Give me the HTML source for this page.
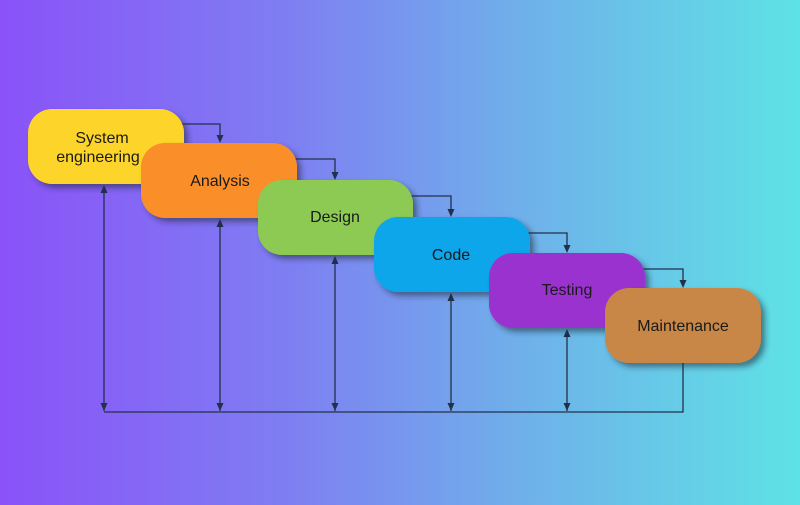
<!DOCTYPE html>
<html><head><meta charset="utf-8"><style>
html,body{margin:0;padding:0}
body{width:800px;height:500px;overflow:hidden;background:linear-gradient(90deg,#8a52f8 0%,#7f7df2 35%,#6fb0ea 65%,#5ee2e5 100%)}
text{font-family:"Liberation Sans",Arial,sans-serif;font-size:16px;fill:#1a1a1a}
</style></head><body>
<svg width="800" height="500" viewBox="0 0 800 500" xmlns="http://www.w3.org/2000/svg">
<defs>
<filter id="s" x="-20%" y="-20%" width="150%" height="150%"><feDropShadow dx="4" dy="4" stdDeviation="3" flood-color="#1b2a3a" flood-opacity="0.55"/></filter>
</defs>
<g stroke="#22304a" stroke-width="1.3" fill="none">
<path d="M104 412 H683 V362"/>
<line x1="104" y1="188" x2="104" y2="411"/>
<line x1="220" y1="222" x2="220" y2="411"/>
<line x1="335" y1="259" x2="335" y2="411"/>
<line x1="451" y1="296" x2="451" y2="411"/>
<line x1="567" y1="332" x2="567" y2="411"/>
<path d="M180 124 H220 V141"/>
<path d="M293 159 H335 V178"/>
<path d="M409 196 H451 V215"/>
<path d="M525 233 H567 V251"/>
<path d="M641 269 H683 V286"/>
</g>
<g fill="#22304a">
<path d="M100.5 403 L107.5 403 L104 411z"/>
<path d="M216.5 403 L223.5 403 L220 411z"/>
<path d="M331.5 403 L338.5 403 L335 411z"/>
<path d="M447.5 403 L454.5 403 L451 411z"/>
<path d="M563.5 403 L570.5 403 L567 411z"/>
<path d="M100.5 193 L107.5 193 L104 185z"/>
<path d="M216.5 227 L223.5 227 L220 219z"/>
<path d="M331.5 264 L338.5 264 L335 256z"/>
<path d="M447.5 301 L454.5 301 L451 293z"/>
<path d="M563.5 337 L570.5 337 L567 329z"/>
<path d="M216.5 135 L223.5 135 L220 143z"/>
<path d="M331.5 172 L338.5 172 L335 180z"/>
<path d="M447.5 209 L454.5 209 L451 217z"/>
<path d="M563.5 245 L570.5 245 L567 253z"/>
<path d="M679.5 280 L686.5 280 L683 288z"/>
</g>
<g filter="url(#s)"><rect x="28" y="109" width="156" height="75" rx="24" fill="#fdd52a"/></g>
<text x="102" y="143" text-anchor="middle">System</text>
<text x="98" y="162" text-anchor="middle">engineering</text>
<g filter="url(#s)"><rect x="141" y="143" width="156" height="75" rx="24" fill="#fa8f2c"/></g>
<text x="220" y="186" text-anchor="middle">Analysis</text>
<g filter="url(#s)"><rect x="258" y="180" width="155" height="75" rx="24" fill="#8dca52"/></g>
<text x="335" y="222" text-anchor="middle">Design</text>
<g filter="url(#s)"><rect x="374" y="217" width="156" height="75" rx="24" fill="#0ea6ea"/></g>
<text x="451" y="260" text-anchor="middle">Code</text>
<g filter="url(#s)"><rect x="489" y="253" width="156" height="75" rx="24" fill="#9a31d0"/></g>
<text x="567" y="295" text-anchor="middle">Testing</text>
<g filter="url(#s)"><rect x="605" y="288" width="156" height="75" rx="24" fill="#c88746"/></g>
<text x="683" y="331" text-anchor="middle">Maintenance</text>
</svg>
</body></html>
